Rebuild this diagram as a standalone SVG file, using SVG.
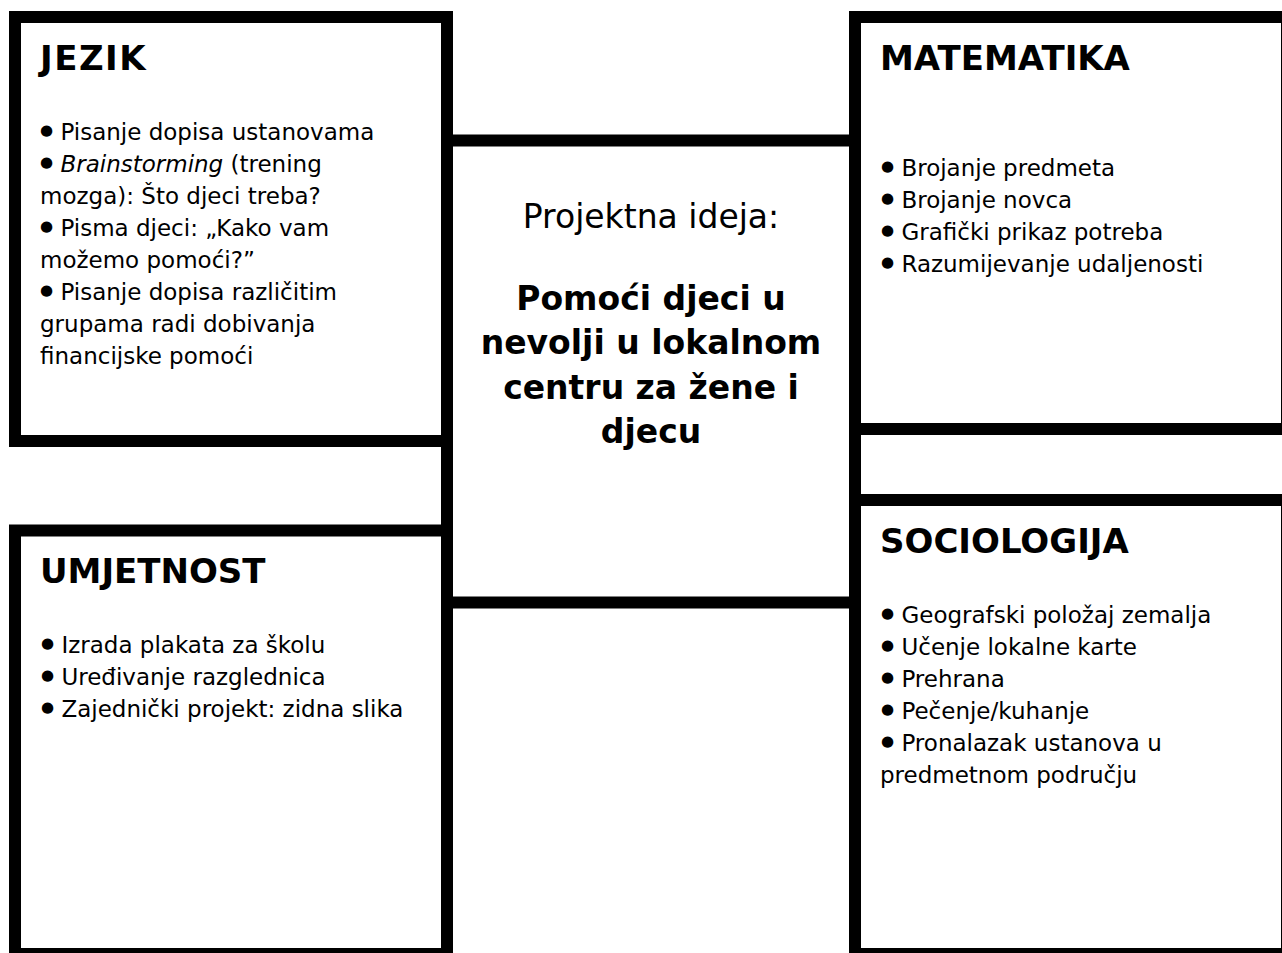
<svg xmlns="http://www.w3.org/2000/svg" width="1282" height="953" viewBox="0 0 1282 953">
<style>
.box{fill:#fff;stroke:#000;stroke-width:12}
.h{font-family:"DejaVu Sans","Liberation Sans",sans-serif;font-weight:bold;font-size:34px;fill:#000}
.t{font-family:"DejaVu Sans","Liberation Sans",sans-serif;font-size:23px;fill:#000}
.b{font-size:15px}
.c{font-family:"DejaVu Sans","Liberation Sans",sans-serif;font-size:33px;fill:#000;text-anchor:middle}
.cb{font-weight:bold}
</style>
<rect x="0" y="0" width="1282" height="953" fill="#fff"/>
<g id="jezik">
<rect class="box" x="15" y="17" width="432" height="424"/>
<text class="h" x="40" y="70" letter-spacing="1.5">JEZIK</text>
<text class="t" x="40" y="140"><tspan class="b" dy="-5">●</tspan><tspan dy="5"> Pisanje dopisa ustanovama</tspan></text>
<text class="t" x="40" y="172"><tspan class="b" dy="-5">●</tspan><tspan dy="5"> </tspan><tspan font-style="italic">Brainstorming</tspan> (trening</text>
<text class="t" x="40" y="204">mozga): Što djeci treba?</text>
<text class="t" x="40" y="236"><tspan class="b" dy="-5">●</tspan><tspan dy="5"> Pisma djeci: „Kako vam</tspan></text>
<text class="t" x="40" y="268">možemo pomoći?”</text>
<text class="t" x="40" y="300"><tspan class="b" dy="-5">●</tspan><tspan dy="5"> Pisanje dopisa različitim</tspan></text>
<text class="t" x="40" y="332">grupama radi dobivanja</text>
<text class="t" x="40" y="364">financijske pomoći</text>
</g>
<g id="matematika">
<rect class="box" x="855" y="17" width="432" height="412"/>
<text class="h" x="880" y="70">MATEMATIKA</text>
<text class="t" x="881" y="176"><tspan class="b" dy="-5">●</tspan><tspan dy="5"> Brojanje predmeta</tspan></text>
<text class="t" x="881" y="208"><tspan class="b" dy="-5">●</tspan><tspan dy="5"> Brojanje novca</tspan></text>
<text class="t" x="881" y="240"><tspan class="b" dy="-5">●</tspan><tspan dy="5"> Grafički prikaz potreba</tspan></text>
<text class="t" x="881" y="272"><tspan class="b" dy="-5">●</tspan><tspan dy="5"> Razumijevanje udaljenosti</tspan></text>
</g>
<g id="umjetnost">
<rect class="box" x="15" y="530.5" width="432" height="423.5"/>
<text class="h" x="40" y="583">UMJETNOST</text>
<text class="t" x="41" y="653"><tspan class="b" dy="-5">●</tspan><tspan dy="5"> Izrada plakata za školu</tspan></text>
<text class="t" x="41" y="685"><tspan class="b" dy="-5">●</tspan><tspan dy="5"> Uređivanje razglednica</tspan></text>
<text class="t" x="41" y="717"><tspan class="b" dy="-5">●</tspan><tspan dy="5"> Zajednički projekt: zidna slika</tspan></text>
</g>
<g id="sociologija">
<rect class="box" x="855" y="500" width="432" height="454"/>
<text class="h" x="880" y="553">SOCIOLOGIJA</text>
<text class="t" x="881" y="623"><tspan class="b" dy="-5">●</tspan><tspan dy="5"> Geografski položaj zemalja</tspan></text>
<text class="t" x="881" y="655"><tspan class="b" dy="-5">●</tspan><tspan dy="5"> Učenje lokalne karte</tspan></text>
<text class="t" x="881" y="687"><tspan class="b" dy="-5">●</tspan><tspan dy="5"> Prehrana</tspan></text>
<text class="t" x="881" y="719"><tspan class="b" dy="-5">●</tspan><tspan dy="5"> Pečenje/kuhanje</tspan></text>
<text class="t" x="881" y="751"><tspan class="b" dy="-5">●</tspan><tspan dy="5"> Pronalazak ustanova u</tspan></text>
<text class="t" x="880" y="783">predmetnom području</text>
</g>
<g id="projektna-ideja">
<rect class="box" x="447" y="140.5" width="408" height="462"/>
<text class="c" x="651" y="228">Projektna ideja:</text>
<text class="c cb" x="651" y="310">Pomoći djeci u</text>
<text class="c cb" x="651" y="354">nevolji u lokalnom</text>
<text class="c cb" x="651" y="399">centru za žene i</text>
<text class="c cb" x="651" y="443">djecu</text>
</g>
<g id="connectors"></g>
</svg>
